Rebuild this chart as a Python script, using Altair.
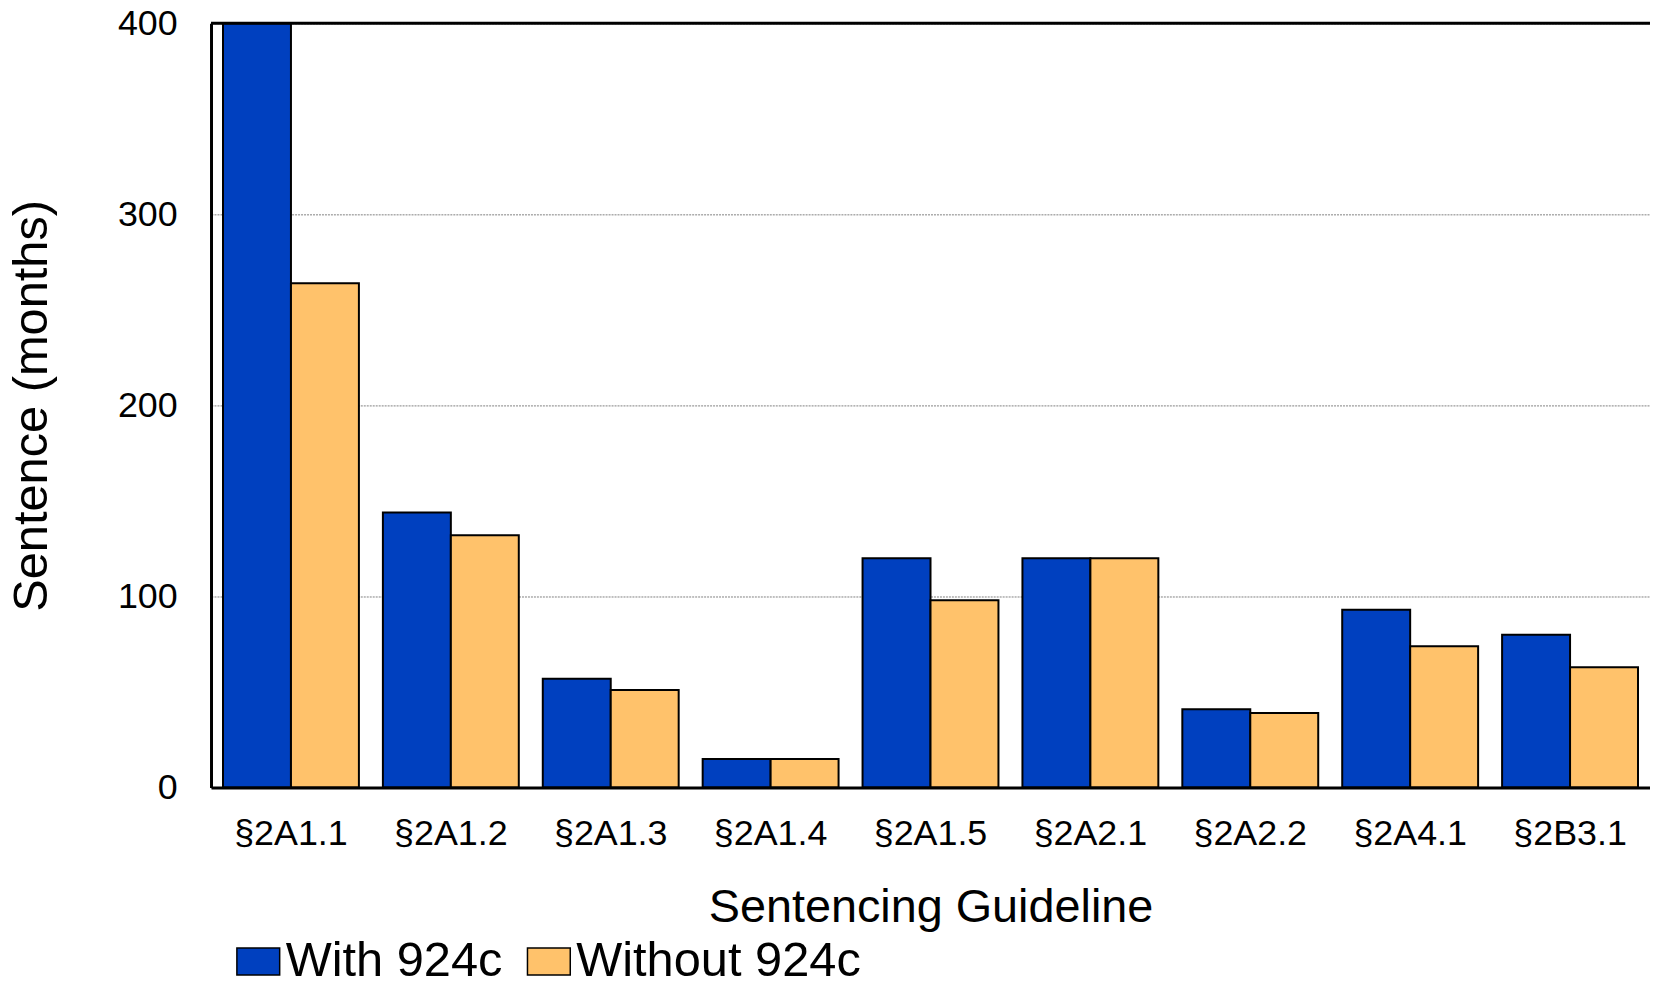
import altair as alt
import pandas as pd

categories = ["§2A1.1", "§2A1.2", "§2A1.3", "§2A1.4", "§2A1.5",
              "§2A2.1", "§2A2.2", "§2A4.1", "§2B3.1"]
series = ["With 924c", "Without 924c"]
with_924c = [400, 144, 57, 15, 120, 120, 41, 93, 80]
without_924c = [264, 132, 51, 15, 98, 120, 39, 74, 63]
y_ticks = [0, 100, 200, 300, 400]
colors = ["#0040BF", "#FFC26B"]

rows = []
for c, a, b in zip(categories, with_924c, without_924c):
    rows.append({"guideline": c, "series": series[0], "months": a})
    rows.append({"guideline": c, "series": series[1], "months": b})
df = pd.DataFrame(rows)

W, H = 1446, 768
FONT = "Liberation Sans"

bars = alt.Chart(df).mark_bar(stroke="black", strokeWidth=2).encode(
    x=alt.X("guideline:N", sort=categories,
            scale=alt.Scale(paddingInner=0.15, paddingOuter=0.075),
            axis=alt.Axis(title="Sentencing Guideline", labelAngle=0,
                          labelFontSize=36, labelPadding=29, ticks=False,
                          domainColor="black", domainWidth=3, zindex=1,
                          titleFontSize=47, titleFontWeight="normal",
                          titleBaseline="alphabetic", titleY=135,
                          grid=False)),
    xOffset=alt.XOffset("series:N", sort=series,
                        scale=alt.Scale(paddingInner=0, paddingOuter=0)),
    y=alt.Y("months:Q",
            scale=alt.Scale(domain=[0, 400], nice=False, clamp=True),
            axis=alt.Axis(title="Sentence (months)", values=y_ticks,
                          labelFontSize=36, labelPadding=34, ticks=False,
                          domainColor="black", domainWidth=3,
                          grid=True, gridColor="#808080", gridDash=[2, 1],
                          gridWidth=1,
                          titleFontSize=49, titleFontWeight="normal",
                          titleAngle=270, titleAlign="center",
                          titleBaseline="alphabetic",
                          titleX=-165, titleY=H / 2)),
    color=alt.Color("series:N", sort=series,
                    scale=alt.Scale(domain=series, range=colors),
                    legend=alt.Legend(title=None, orient="none",
                                      direction="horizontal",
                                      legendX=23, legendY=918,
                                      symbolType="M-1,-0.63H1V0.63H-1Z",
                                      symbolSize=1849,
                                      symbolStrokeColor="black",
                                      symbolStrokeWidth=1.5,
                                      symbolOpacity=1,
                                      labelFontSize=49, labelOffset=3,
                                      labelLimit=400,
                                      columnPadding=22, padding=0)),
)

top_line = alt.Chart(alt.Data(values=[{}])).mark_rule(
    color="black", strokeWidth=3
).encode(x=alt.value(0), x2=alt.value(W), y=alt.value(0))

chart = alt.layer(bars, top_line).properties(
    width=W, height=H,
    padding={"left": 204, "top": 13, "right": 0, "bottom": 188},
    autosize=alt.AutoSizeParams(type="none"),
).configure_view(strokeWidth=0).configure(
    font=FONT
).configure_axis(
    labelColor="black", titleColor="black", labelFont=FONT, titleFont=FONT
).configure_legend(
    labelColor="black", labelFont=FONT
)

chart.save("out.html", embed_options={"renderer": "svg", "actions": False})
